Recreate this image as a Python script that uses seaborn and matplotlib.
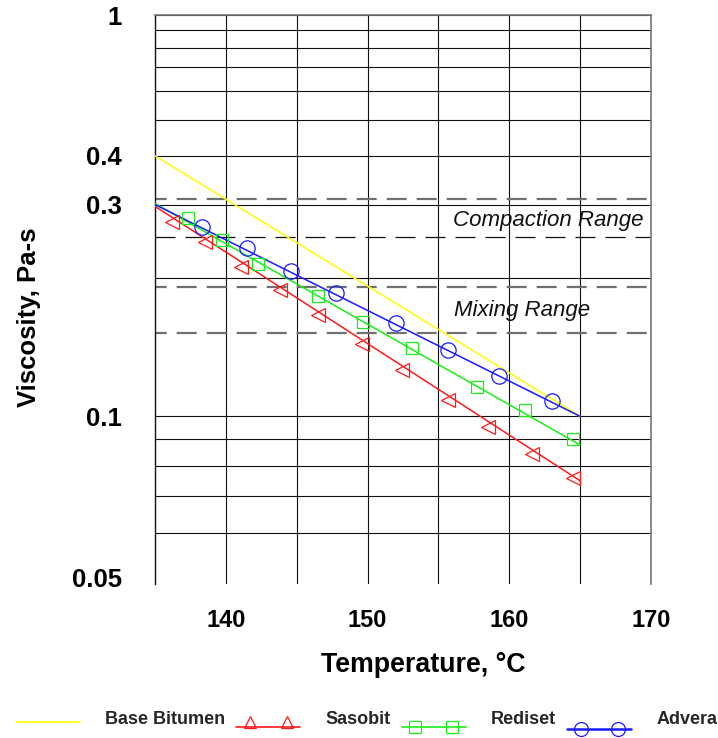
import numpy as np
import pandas as pd
import matplotlib
matplotlib.use("Agg")
import matplotlib.pyplot as plt
import seaborn as sns
from matplotlib.lines import Line2D
from matplotlib.legend_handler import HandlerLine2D
from matplotlib.ticker import FixedLocator, NullLocator, NullFormatter

# ---------------- data ----------------
series_names = ["Base Bitumen", "Sasobit", "Rediset", "Advera"]

# fitted lines (temperature endpoints, viscosity Pa-s)
line_temps = [135, 165]
base_line = [0.400, 0.100]
sasobit_line = [0.297, 0.0748]
rediset_line = [0.302, 0.0877]
advera_line = [0.300, 0.100]

# measured points
sasobit_temps = [136.2, 138.5, 141.1, 143.8, 146.5, 149.6, 152.4, 155.7, 158.5, 161.6, 164.5]
sasobit_visc = [0.272, 0.243, 0.212, 0.187, 0.164, 0.142, 0.125, 0.108, 0.0953, 0.0842, 0.0756]
rediset_temps = [137.3, 139.7, 142.3, 146.5, 149.7, 153.1, 157.7, 161.1, 164.5]
rediset_visc = [0.2775, 0.2457, 0.2149, 0.1815, 0.1583, 0.1388, 0.1150, 0.1030, 0.0900]
advera_temps = [138.3, 141.5, 144.6, 147.8, 152.0, 155.7, 159.3, 163.0]
advera_visc = [0.2647, 0.2347, 0.2073, 0.1841, 0.1575, 0.1376, 0.1213, 0.1074]

# reference ranges
compaction_range = [0.25, 0.31]
mixing_range = [0.15, 0.19]
range_labels = ["Compaction Range", "Mixing Range"]

# axes ticks / grid
x_ticks = [140, 150, 160, 170]
x_grid = [140, 145, 150, 155, 160, 165]
y_ticks = [0.05, 0.1, 0.3, 0.4, 1]
y_tick_labels = ["0.05", "0.1", "0.3", "0.4", "1"]
y_grid = [0.06, 0.07, 0.08, 0.09, 0.1, 0.2, 0.3, 0.4, 0.5, 0.6, 0.7, 0.8, 0.9, 1.0]

# ---------------- scale: log(log(viscosity in cP)) ----------------
def fwd(v):
    v = np.asarray(v, dtype=float)
    with np.errstate(all="ignore"):
        return np.log10(np.log10(np.clip(v * 1000.0, 1.0001, None)))

def inv(f):
    f = np.asarray(f, dtype=float)
    with np.errstate(all="ignore"):
        return 10 ** (10 ** f) / 1000.0

sns.set_theme(style="white")
plt.rcParams["font.family"] = ["Liberation Sans", "DejaVu Sans"]
plt.rcParams["lines.scale_dashes"] = False

YELLOW = "#ffff00"
RED = "#ff1a1a"
GREEN = "#1aee1a"
BLUE = "#1a1aff"

fig = plt.figure(figsize=(7.18, 7.38), dpi=100)
ax = fig.add_axes([155 / 718, 1 - 584 / 738, 496 / 718, 569 / 738])
ax.set_yscale("function", functions=(fwd, inv))
ax.set_facecolor("white")

# grid
for v in y_grid:
    ax.axhline(v, color="#111111", lw=0.8, zorder=1)
for t in x_grid:
    ax.axvline(t, color="#111111", lw=0.8, zorder=1)

# range dashed lines
ax.axhline(compaction_range[1], color="#707070", lw=1.6, ls=(6, (14.4, 7.2)), zorder=1.5)
ax.axhline(compaction_range[0], color="#111111", lw=0.9, ls=(0, (14.4, 7.2)), zorder=1.5)
ax.axhline(mixing_range[1], color="#707070", lw=1.6, ls=(6, (14.4, 7.2)), zorder=1.5)
ax.axhline(mixing_range[0], color="#707070", lw=1.6, ls=(6, (14.4, 7.2)), zorder=1.5)

mid_c = inv((fwd(compaction_range[0]) + fwd(compaction_range[1])) / 2)
mid_m = inv((fwd(mixing_range[0]) + fwd(mixing_range[1])) / 2)
ax.text(156.0, float(mid_c) * 0.985, range_labels[0], fontsize=16, style="italic",
        ha="left", va="center", color="#111111", zorder=3)
ax.text(156.1, float(mid_m) * 1.0, range_labels[1], fontsize=16, style="italic",
        ha="left", va="center", color="#111111", zorder=3)

# fitted lines
sns.lineplot(x=line_temps, y=base_line, color=YELLOW, lw=1.1, ax=ax, legend=False, zorder=3)
sns.lineplot(x=line_temps, y=sasobit_line, color=RED, lw=1.1, ax=ax, legend=False, zorder=3)
sns.lineplot(x=line_temps, y=rediset_line, color=GREEN, lw=1.1, ax=ax, legend=False, zorder=3)
sns.lineplot(x=line_temps, y=advera_line, color=BLUE, lw=1.1, ax=ax, legend=False, zorder=3)

# markers
mk = dict(linestyle="", markerfacecolor="none", markeredgewidth=0.9, legend=False, zorder=4, ax=ax)
sns.lineplot(x=sasobit_temps, y=sasobit_visc, marker="<", markersize=9.4,
             markeredgecolor=RED, color=RED, **mk)
sns.lineplot(x=rediset_temps, y=rediset_visc, marker="s", markersize=8.4,
             markeredgecolor=GREEN, color=GREEN, **mk)
sns.lineplot(x=advera_temps, y=advera_visc, marker="o", markersize=11,
             markeredgecolor=BLUE, color=BLUE, **mk)

ax.set_xlim(135, 170)
ax.set_ylim(0.0488, 1)

ax.set_xticks(x_ticks)
ax.set_xticklabels([str(t) for t in x_ticks])
ax.xaxis.set_minor_locator(NullLocator())
ax.yaxis.set_major_locator(FixedLocator(y_ticks))
ax.set_yticklabels(y_tick_labels)
ax.yaxis.set_minor_locator(NullLocator())
ax.yaxis.set_minor_formatter(NullFormatter())
ax.tick_params(axis="x", length=0, pad=18, labelsize=17)
ax.tick_params(axis="y", length=0, pad=24, labelsize=18.5)
for lab in ax.get_xticklabels() + ax.get_yticklabels():
    lab.set_fontweight("bold")
    lab.set_color("black")
ax.grid(False)

for side in ["top", "right"]:
    ax.spines[side].set_color("#777777")
    ax.spines[side].set_linewidth(1.2)
ax.spines["left"].set_color("#111111")
ax.spines["left"].set_linewidth(1.0)
ax.spines["bottom"].set_visible(False)

ax.set_xlabel("Temperature, °C", fontsize=19.3, fontweight="bold", color="black")
ax.xaxis.set_label_coords(0.540, -0.1195)
ax.set_ylabel("Viscosity, Pa-s", fontsize=18.5, fontweight="bold", color="black")
ax.yaxis.set_label_coords(-0.229, 0.4684)


class FullLineHandler(HandlerLine2D):
    """Line across the whole handle, two markers inset from the ends, set slightly low."""
    def __init__(self, drop=0.0, mdrop=None, inset=0.75, **kw):
        super().__init__(**kw)
        self.drop = drop
        self.mdrop = drop if mdrop is None else mdrop
        self.inset = inset

    def create_artists(self, legend, orig_handle, xdescent, ydescent,
                       width, height, fontsize, trans):
        yc = (height - ydescent) / 2
        x0, x1 = -xdescent, -xdescent + width
        line = Line2D([x0, x1], [yc - self.drop] * 2)
        self.update_prop(line, orig_handle, legend)
        line.set_marker("None")
        line.set_transform(trans)
        arts = [line]
        if orig_handle.get_marker() not in (None, "None", "none", ""):
            pad = self.inset * fontsize
            mline = Line2D([x0 + pad, x1 - pad], [yc - self.mdrop] * 2)
            self.update_prop(mline, orig_handle, legend)
            mline.set_linestyle("None")
            mline.set_transform(trans)
            arts.append(mline)
        return arts


handles = [
    Line2D([], [], color=YELLOW, lw=1.2),
    Line2D([], [], color=RED, lw=1.2, marker="^", markersize=9, markerfacecolor="none",
           markeredgecolor=RED, markeredgewidth=0.9),
    Line2D([], [], color=GREEN, lw=1.2, marker="s", markersize=9, markerfacecolor="none",
           markeredgecolor=GREEN, markeredgewidth=0.9),
    Line2D([], [], color=BLUE, lw=1.8, marker="o", markersize=10, markerfacecolor="none",
           markeredgecolor=BLUE, markeredgewidth=0.9),
]
hmap = {
    handles[0]: FullLineHandler(drop=3.0),
    handles[1]: FullLineHandler(drop=6.5, mdrop=3.0),
    handles[2]: FullLineHandler(drop=6.5),
    handles[3]: FullLineHandler(drop=8.0),
}
fig.legend(handles, series_names, loc="center left",
           bbox_to_anchor=(16 / 718, 1 - 720 / 738), ncol=4, frameon=False,
           handlelength=3.55, handletextpad=1.4, columnspacing=0.6,
           borderpad=0, borderaxespad=0, handler_map=hmap,
           prop={"family": ["Liberation Sans", "DejaVu Sans"], "weight": "bold", "size": 13})

fig.savefig("out.png", dpi=100, facecolor="white")
